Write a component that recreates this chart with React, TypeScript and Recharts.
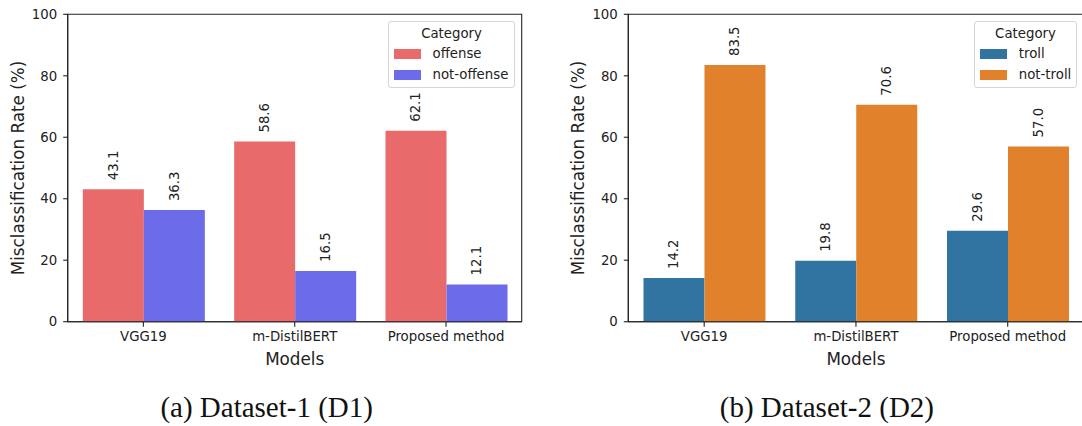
import { BarChart, Bar, XAxis, YAxis, Legend, LabelList, ReferenceArea } from 'recharts';

const FONT = '"DejaVu Sans", sans-serif';
const INK = '#222';

// Misclassification rate (%) per model and class
const models = ['VGG19', 'm-DistilBERT', 'Proposed method'];
const offenseRates = [43.1, 58.6, 62.1];
const notOffenseRates = [36.3, 16.5, 12.1];
const trollRates = [14.2, 19.8, 29.6];
const notTrollRates = [83.5, 70.6, 57.0];
const rateTicks = [0, 20, 40, 60, 80, 100];

type Series = { key: string; name: string; color: string };

const d1Series: Series[] = [
  { key: 'offense', name: 'offense', color: '#E96A6A' },
  { key: 'notOffense', name: 'not-offense', color: '#6C6CEA' },
];
const d2Series: Series[] = [
  { key: 'troll', name: 'troll', color: '#3274A1' },
  { key: 'notTroll', name: 'not-troll', color: '#E1812C' },
];

const d1Data = models.map((model, i) => ({ model, offense: offenseRates[i], notOffense: notOffenseRates[i] }));
const d2Data = models.map((model, i) => ({ model, troll: trollRates[i], notTroll: notTrollRates[i] }));

// vertical value text sitting just above each bar
function ValueLabel(props: any) {
  const { x, y, width, value } = props;
  const cx = Number(x) + Number(width) / 2;
  const cy = Number(y) - 9;
  return (
    <text
      x={cx}
      y={cy}
      transform={`rotate(-90 ${cx} ${cy})`}
      textAnchor="start"
      dominantBaseline="central"
      fontSize={13.3}
      fontFamily={FONT}
      fill={INK}
    >
      {Number(value).toFixed(1)}
    </text>
  );
}

function RateTitle(props: any) {
  const { viewBox } = props;
  const x = viewBox.x + viewBox.width - 50;
  const y = viewBox.y + viewBox.height / 2;
  return (
    <text
      x={x}
      y={y}
      transform={`rotate(-90 ${x} ${y})`}
      textAnchor="middle"
      dominantBaseline="central"
      fontSize={16.8}
      fontFamily={FONT}
      fill={INK}
    >
      Misclassification Rate (%)
    </text>
  );
}

function CategoryLegend(props: any) {
  const order: string[] = props.order || [];
  const payload = [...(props.payload || [])].sort(
    (a: any, b: any) => order.indexOf(a.value) - order.indexOf(b.value)
  );
  return (
    <div
      style={{
        position: 'relative',
        width: '100%',
        height: '100%',
        boxSizing: 'border-box',
        border: '1px solid #d6d6d6',
        borderRadius: 3,
        background: 'rgba(255,255,255,0.8)',
        fontFamily: FONT,
        fontSize: 13.3,
        color: INK,
      }}
    >
      <div style={{ position: 'absolute', top: 3, left: 0, right: 0, textAlign: 'center', lineHeight: '18px' }}>
        Category
      </div>
      {payload.map((entry: any, i: number) => (
        <div
          key={entry.value}
          style={{
            position: 'absolute',
            top: 23.6 + i * 20.7,
            left: 5,
            height: 18,
            display: 'flex',
            alignItems: 'center',
            whiteSpace: 'nowrap',
          }}
        >
          <span style={{ display: 'inline-block', width: 27, height: 10, background: entry.color, marginRight: 11.5 }} />
          <span style={{ lineHeight: '18px' }}>{entry.value}</span>
        </div>
      ))}
    </div>
  );
}

interface PanelProps {
  data: Record<string, string | number>[];
  series: Series[];
  left: number;
  width: number;
  axisWidth: number;
  rightMargin: number;
  legendBox: { left: number; width: number };
  caption: string;
  captionX: number;
}

function Panel({ data, series, left, width, axisWidth, rightMargin, legendBox, caption, captionX }: PanelProps) {
  return (
    <div style={{ position: 'absolute', left, top: 0, width, height: 426 }}>
      <BarChart
        width={width}
        height={426}
        data={data}
        margin={{ top: 14.3, right: rightMargin, left: 0, bottom: 54.3 }}
        barCategoryGap="10%"
        barGap={0}
      >
        <XAxis
          dataKey="model"
          interval={0}
          height={50}
          tickSize={5}
          tickMargin={5}
          tickLine={{ stroke: INK, strokeWidth: 1.1 }}
          axisLine={{ stroke: INK, strokeWidth: 1.1 }}
          tick={{ fontSize: 13.3, fill: INK, fontFamily: FONT }}
          label={{ value: 'Models', position: 'insideBottom', offset: 6.7, fontSize: 16.8, fill: INK, fontFamily: FONT }}
        />
        <YAxis
          domain={[0, 100]}
          ticks={rateTicks}
          width={axisWidth}
          tickSize={4.5}
          tickMargin={6}
          tickLine={{ stroke: INK, strokeWidth: 1.1 }}
          axisLine={{ stroke: INK, strokeWidth: 1.1 }}
          tick={{ fontSize: 13.3, fill: INK, fontFamily: FONT }}
          label={<RateTitle />}
        />
        <Legend
          layout="vertical"
          align="center"
          verticalAlign="middle"
          content={<CategoryLegend order={series.map((s) => s.name)} />}
          wrapperStyle={{ left: legendBox.left, top: 20.7, width: legendBox.width, height: 67 }}
        />
        {series.map((s) => (
          <Bar key={s.key} dataKey={s.key} name={s.name} fill={s.color} isAnimationActive={false}>
            <LabelList dataKey={s.key} content={<ValueLabel />} />
          </Bar>
        ))}
        {/* frame around the plotting area (top and right spines) */}
        <ReferenceArea
          y1={0}
          y2={100}
          fill="none"
          fillOpacity={0}
          stroke={INK}
          strokeWidth={1.1}
          ifOverflow="visible"
        />
      </BarChart>
      <svg width={width} height={426} style={{ position: 'absolute', left: 0, top: 0, pointerEvents: 'none' }}>
        <text x={captionX} y={416.7} textAnchor="middle" fontSize={29} fontFamily='"Liberation Serif", serif' fill="#111">
          {caption}
        </text>
      </svg>
    </div>
  );
}

export default function App() {
  return (
    <div
      style={{
        position: 'absolute',
        left: 0,
        top: 0,
        width: 1082,
        height: 426,
        overflow: 'hidden',
        background: '#fff',
      }}
    >
      <Panel
        data={d1Data}
        series={d1Series}
        left={0}
        width={540}
        axisWidth={67.7}
        rightMargin={18.3}
        legendBox={{ left: 388, width: 127 }}
        caption="(a) Dataset-1 (D1)"
        captionX={266.7}
      />
      <Panel
        data={d2Data}
        series={d2Series}
        left={540}
        width={560}
        axisWidth={88.3}
        rightMargin={16.4}
        legendBox={{ left: 434.3, width: 102.4 }}
        caption="(b) Dataset-2 (D2)"
        captionX={286.9}
      />
    </div>
  );
}
